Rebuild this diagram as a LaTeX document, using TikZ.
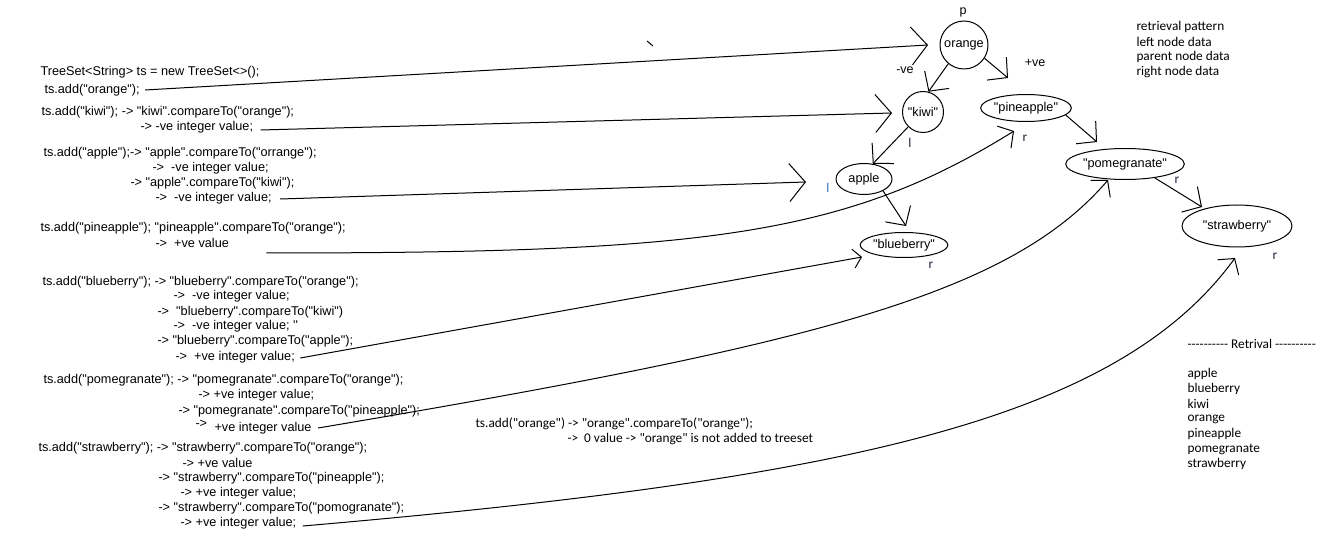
\documentclass[tikz,border=0pt]{standalone}
\usepackage{fontspec}
\usetikzlibrary{arrows.meta,shapes.geometric}
\newfontfamily\arialfam{Liberation Sans}
\newfontfamily\calfam{Carlito}
\definecolor{lblue}{RGB}{50,110,190}
\definecolor{dnavy}{RGB}{30,35,60}
\begin{document}
\begin{tikzpicture}[x=1pt,y=-1pt,line width=1pt,
  every node/.style={inner sep=0pt},
  code/.style={font=\arialfam\fontsize{12.7}{15}\selectfont, anchor=west},
  cal/.style={font=\calfam\fontsize{13.3}{16}\selectfont, anchor=west},
  lbl/.style={font=\arialfam\fontsize{12.5}{15}\selectfont},
  clbl/.style={font=\calfam\fontsize{13.3}{16}\selectfont, text=dnavy},
  tnode/.style={draw, font=\arialfam\fontsize{12.7}{15}\selectfont},
  circnode/.style={tnode, circle},
  ellnode/.style={tnode, ellipse},
  bigarr/.style={-{Straight Barb[length=16pt,width=38pt]}},
  midarr/.style={-{Straight Barb[length=11pt,width=26pt]}},
  smallarr/.style={-{Straight Barb[length=8pt,width=19pt]}},
  treearr/.style={-{Straight Barb[length=14pt,width=30pt]}}]
\fill[white] (0,0) rectangle (1335,534);
\useasboundingbox (0,0) rectangle (1335,534);

% ---------------- left code text ----------------
\node[code] (t1) at (40,72) {TreeSet<String> ts = new TreeSet<>();};
\node[code] (t2) at (44,90) {ts.add("orange");};
\node[code] (t3) at (41,112) {ts.add("kiwi"); -> "kiwi".compareTo("orange");};
\node[code] (t4) at (140,127) {-> -ve integer value;};
\node[code] (t5) at (43,153) {ts.add("apple");-> "apple".compareTo("orrange");};
\node[code] (t6) at (152,168) {->\ \ -ve integer value;};
\node[code] (t7) at (130,183) {-> "apple".compareTo("kiwi");};
\node[code] (t8) at (155,198) {->\ \ -ve integer value;};
\node[code] (t9) at (40,228) {ts.add("pineapple"); "pineapple".compareTo("orange");};
\node[code] (t10) at (155,243) {->\ \ +ve value};
\node[code] (t11) at (42,282) {ts.add("blueberry"); -> "blueberry".compareTo("orange");};
\node[code] (t12) at (173,296) {->\ \ -ve integer value;};
\node[code] (t13) at (157,312) {->\ \ "blueberry".compareTo("kiwi")};
\node[code] (t14) at (173,326) {->\ \ -ve integer value; ''};
\node[code] (t15) at (157,341) {-> "blueberry".compareTo("apple");};
\node[code] (t16) at (175,357) {->\ \ +ve integer value;};
\node[code] (t17) at (43,380) {ts.add("pomegranate"); -> "pomegranate".compareTo("orange");};
\node[code] (t18) at (198,395) {-> +ve integer value;};
\node[code] (t19) at (178,411) {-> "pomegranate".compareTo("pineapple");};
\node[code] (t20a) at (195,424) {->};
\node[code] (t20) at (214,428) {+ve integer value};
\node[code] (t21) at (38,448) {ts.add("strawberry"); -> "strawberry".compareTo("orange");};
\node[code] (t22) at (182,463) {-> +ve value};
\node[code] (t23) at (158,478) {-> "strawberry".compareTo("pineapple");};
\node[code] (t24) at (180,493) {-> +ve integer value;};
\node[code] (t25) at (158,508) {-> "strawberry".compareTo("pomogranate");};
\node[code] (t26) at (180,523) {-> +ve integer value;};

% ---------------- middle note ----------------
\node[cal] (n1) at (475,424) {ts.add("orange") -> "orange".compareTo("orange");};
\node[cal] (n2) at (567,439) {->\ \ 0 value -> "orange" is not added to treeset};

% ---------------- right text ----------------
\node[cal] (r1) at (1136,27) {retrieval pattern};
\node[cal] (r2) at (1136,42) {left node data};
\node[cal] (r3) at (1136,57) {parent node data};
\node[cal] (r4) at (1136,72) {right node data};

\node[cal] (rt) at (1187,344) {---------- Retrival ----------};
\node[cal] (o1) at (1187,374) {apple};
\node[cal] (o2) at (1187,389) {blueberry};
\node[cal] (o3) at (1187,404) {kiwi};
\node[cal] (o4) at (1187,419) {orange};
\node[cal] (o5) at (1187,434) {pineapple};
\node[cal] (o6) at (1187,449) {pomegranate};
\node[cal] (o7) at (1187,464) {strawberry};

% ---------------- tree ----------------
\node[circnode, minimum size=48pt] (orange) at (964,45) {orange};
\node[circnode, minimum size=41pt] (kiwi) at (923,112) {"kiwi"};
\node[ellnode, minimum width=75pt, minimum height=27pt] (pine) at (1026,108) {"pineapple"};
\node[ellnode, minimum width=56pt, minimum height=31pt] (apple) at (864,179) {apple};
\node[ellnode, minimum width=71pt, minimum height=25pt] (blue) at (904,245) {"blueberry"};
\node[ellnode, minimum width=94pt, minimum height=31pt] (pome) at (1125,164) {"pomegranate"};
\node[ellnode, minimum width=110pt, minimum height=42pt] (straw) at (1237,226) {"strawberry"};

\node[lbl] (lp) at (963,12) {p};
\node[lbl] (lneg) at (905,70) {-ve};
\node[lbl] (lpos) at (1035,63) {+ve};
\node[clbl] (lk) at (910,143) {l};
\node[clbl, text=lblue] (la) at (828,188) {l};
\node[clbl] (rp) at (1025,138) {r};
\node[clbl] (rb) at (931,265) {r};
\node[clbl] (rpo) at (1177,180) {r};
\node[clbl] (rs) at (1275,256) {r};

% arrow tips that stop short of their nodes
\coordinate (tipO) at (928,45);
\coordinate (tipK) at (892,113);
\coordinate (tipA) at (806,182);
\coordinate (tipP) at (1014,131);
\coordinate (tipB) at (862,257);
\coordinate (tipPo) at (1108,180);
\coordinate (tipS) at (1235,258);
\coordinate (eP) at (1008,78);
\coordinate (eB) at (906,226);
\coordinate (ePo) at (1097,142);
\coordinate (eS) at (1202,207);

% tree edges
\draw[treearr] (orange.-130) -- (kiwi.75);
\draw[treearr] (orange.-33) -- (eP);
\draw[treearr] (kiwi.-135) -- (apple.60);
\draw[treearr] (apple.-32) -- (eB);
\draw[treearr] (pine.-10) -- (ePo);
\draw[treearr] (pome.-25) -- (eS);

% connectors from the code to the tree
\draw[bigarr] ([xshift=5pt]t2.east) -- (tipO);
\draw[bigarr] ([xshift=7pt,yshift=-3pt]t4.east) -- (tipK);
\draw[bigarr] ([xshift=8pt,yshift=-1pt]t8.east) -- (tipA);
\draw[midarr] ([xshift=37pt,yshift=-10pt]t10.east) .. controls (700,253) and (844,237) .. (tipP);
\draw[smallarr] ([xshift=5pt,yshift=-1pt]t16.east) -- (tipB);
\draw[midarr] ([xshift=6pt]t20.east) .. controls (818,344) and (1010,294) .. (tipPo);
\draw[midarr] ([xshift=6pt,yshift=-3pt]t26.east) .. controls (847,479) and (1117,420) .. (tipS);

% small stray stroke
\draw (647,41) -- (653,46);
\end{tikzpicture}
\end{document}
